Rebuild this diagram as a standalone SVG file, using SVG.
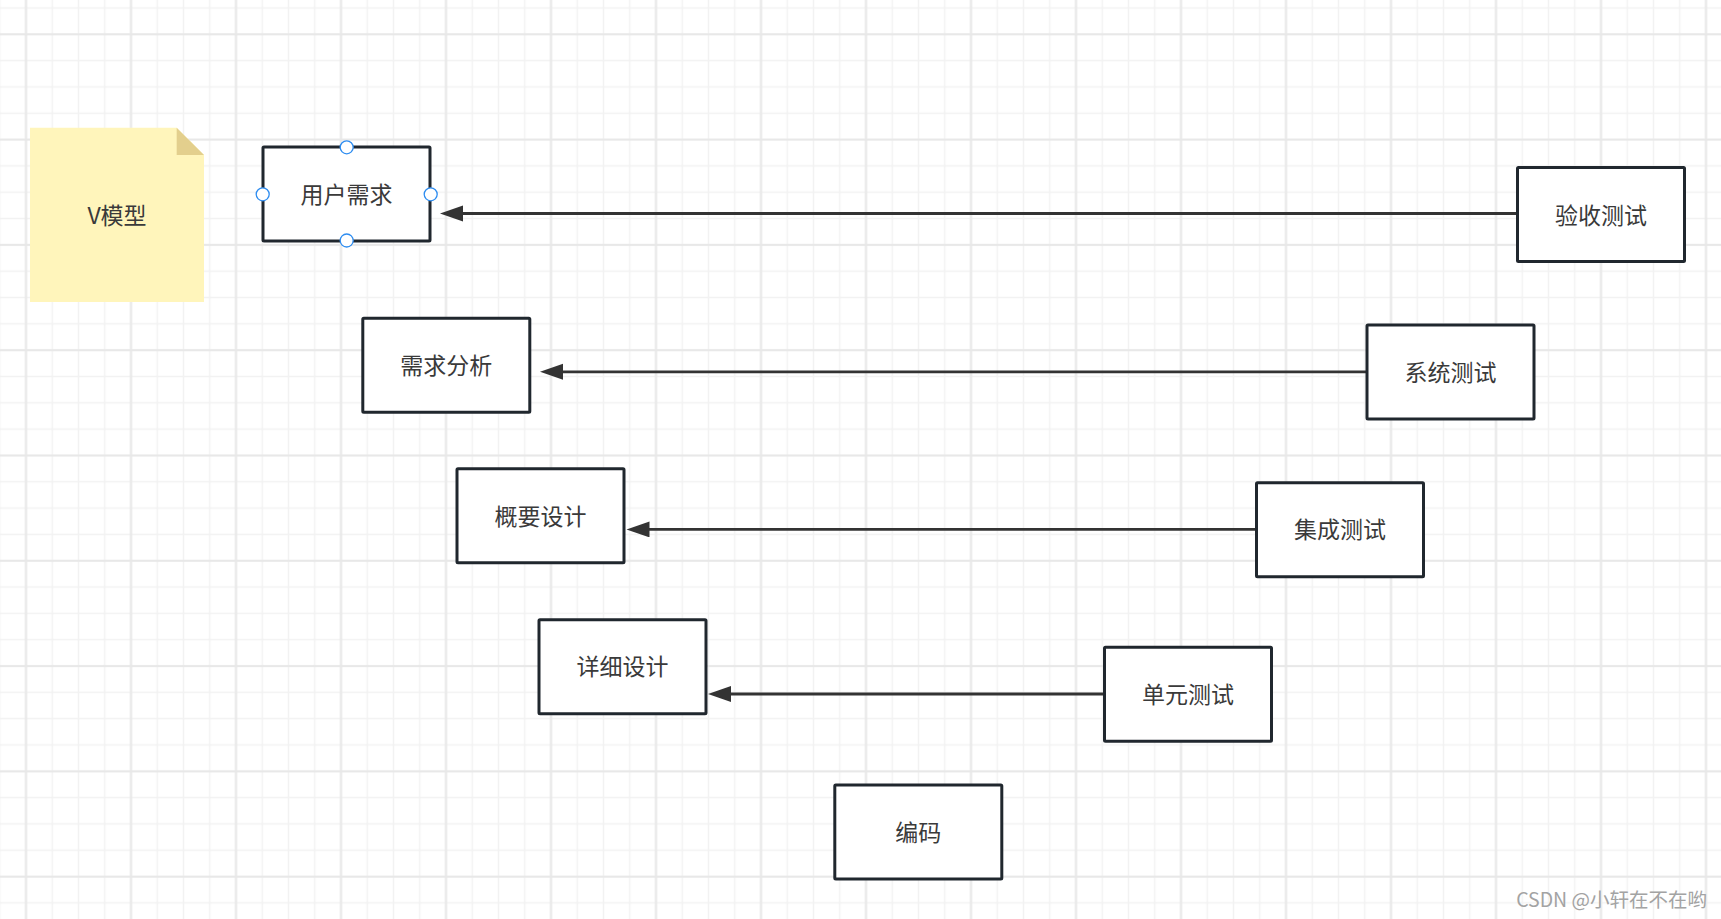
<svg xmlns="http://www.w3.org/2000/svg" width="1721" height="919" viewBox="0 0 1721 919">
<style>
.box{fill:#ffffff;stroke:#20272e;stroke-width:3}
.lbl{font-family:"Noto Sans CJK SC","Noto Sans",sans-serif;font-size:23px;fill:#3a3a3a;text-anchor:middle}
.edge{stroke:#333333;stroke-width:2.8;fill:none}
.port{fill:#ffffff;stroke:#2d8cf0;stroke-width:1.3}
</style>
<defs>
<pattern id="gmin" patternUnits="userSpaceOnUse" x="12.875" y="21.14" width="26.25" height="26.32">
<path d="M13.125 0V26.32M0 13.16H26.25" stroke="#f2f2f2" stroke-width="1.5"/>
</pattern>
<pattern id="gmaj" patternUnits="userSpaceOnUse" x="-26.5" y="-18.35" width="105" height="105.3">
<path d="M52.5 0V105.3M0 52.65H105" stroke="#e8e8e8" stroke-width="2"/>
</pattern>
<marker id="arr" markerUnits="userSpaceOnUse" markerWidth="24" markerHeight="18" refX="3" refY="8" orient="auto">
<path d="M0 0L23 8L0 16Z" fill="#333333"/>
</marker>
</defs>
<rect width="1721" height="919" fill="#ffffff"/>
<rect width="1721" height="919" fill="url(#gmin)"/>
<rect width="1721" height="919" fill="url(#gmaj)"/>

<g id="connectors">
<path class="edge" d="M1517.5 213.5H460" marker-end="url(#arr)"/>
<path class="edge" d="M1367 371.8H560" marker-end="url(#arr)"/>
<path class="edge" d="M1256.5 529.4H646.5" marker-end="url(#arr)"/>
<path class="edge" d="M1104.5 694H728" marker-end="url(#arr)"/>
</g>

<g id="note-vmodel">
<path d="M30 127.7H176.7L204 155V302H30Z" fill="#fff5bb"/>
<path d="M176.7 127.7L204 155H176.7Z" fill="#e3cf8d"/>
<text class="lbl" x="117" y="224">V模型</text>
</g>

<g id="node-yonghuxuqiu">
<rect class="box" x="263" y="147" width="167" height="94" rx="1"/>
<text class="lbl" x="346.5" y="202.5">用户需求</text>
<circle class="port" cx="346.7" cy="147.3" r="6.5"/>
<circle class="port" cx="262.7" cy="194.3" r="6.5"/>
<circle class="port" cx="430.7" cy="194.3" r="6.5"/>
<circle class="port" cx="346.7" cy="240.5" r="6.5"/>
</g>

<g id="node-yanshouceshi">
<rect class="box" x="1517.5" y="167.5" width="167" height="94" rx="1"/>
<text class="lbl" x="1601" y="223.5">验收测试</text>
</g>

<g id="node-xuqiufenxi">
<rect class="box" x="362.8" y="318.3" width="167" height="94" rx="1"/>
<text class="lbl" x="446.3" y="374">需求分析</text>
</g>

<g id="node-xitongceshi">
<rect class="box" x="1367" y="325" width="167" height="94" rx="1"/>
<text class="lbl" x="1450.5" y="380.5">系统测试</text>
</g>

<g id="node-gaiyaosheji">
<rect class="box" x="457" y="468.8" width="167" height="94" rx="1"/>
<text class="lbl" x="540.5" y="524.5">概要设计</text>
</g>

<g id="node-jichengceshi">
<rect class="box" x="1256.5" y="482.7" width="167" height="94" rx="1"/>
<text class="lbl" x="1340" y="538">集成测试</text>
</g>

<g id="node-xiangxisheji">
<rect class="box" x="539" y="619.7" width="167" height="94" rx="1"/>
<text class="lbl" x="622.5" y="675">详细设计</text>
</g>

<g id="node-danyuanceshi">
<rect class="box" x="1104.5" y="647.2" width="167" height="94" rx="1"/>
<text class="lbl" x="1188" y="703">单元测试</text>
</g>

<g id="node-bianma">
<rect class="box" x="834.8" y="785" width="167" height="94" rx="1"/>
<text class="lbl" x="918.3" y="840.5">编码</text>
</g>

<text x="1707" y="907" font-family="'Noto Sans CJK SC','Noto Sans',sans-serif" font-size="19.5" fill="#a3a3a3" text-anchor="end">CSDN @小轩在不在哟</text>
</svg>
